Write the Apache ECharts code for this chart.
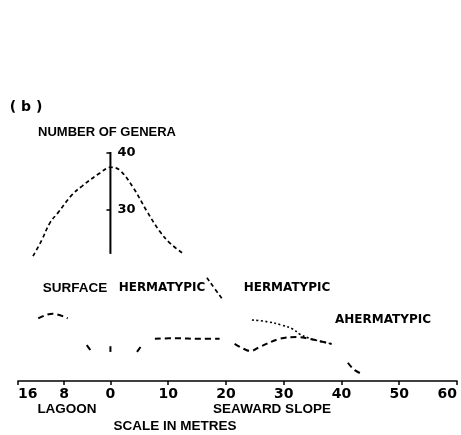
<!DOCTYPE html>
<html><head><meta charset="utf-8">
<script src="https://cdn.jsdelivr.net/npm/echarts@6/dist/echarts.min.js"></script>
<style>html,body{margin:0;padding:0;background:#fff}#c{width:461px;height:435px}</style>
</head><body><div id="c"></div>
<script>
// x = distance in metres (negative = lagoon side), y = number of genera
const xTickValues = [-16, -8, 0, 10, 20, 30, 40, 50, 60];
const yTickValues = [30, 40];
const genusAxisSpan = [[0, 22.3], [0, 40.2]];

const surfaceHermatypic = [
  [[-13.4, 21.9], [-11.9, 24.7], [-10.5, 27.7], [-9.1, 29.5], [-6.7, 32.6], [-4.9, 34.2], [-1.8, 36.5], [0.1, 37.5],
   [1.6, 37.0], [3.9, 34.0], [6.3, 29.8], [8.5, 26.3], [10.3, 24.2], [12.4, 22.5]],
  [[16.7, 18.1], [19.5, 14.2]]
];
const hermatypic = [
  [[-12.5, 11.0], [-10.0, 11.8], [-7.4, 11.0]],
  [[-4.1, 6.3], [-3.4, 5.3]],
  [[0, 6.1], [0, 5.1]],
  [[4.6, 5.1], [5.3, 6.1]],
  [[7.7, 7.4], [11.3, 7.5], [15.6, 7.4], [18.9, 7.4]],
  [[21.5, 6.5], [23.6, 5.4], [24.3, 5.3], [25.9, 6.0], [29.3, 7.4], [32.3, 7.7], [34.0, 7.5], [36.2, 7.0], [38.3, 6.5]],
  [[41.1, 3.2], [42.3, 1.9], [43.7, 1.2]]
];
const ahermatypic = [
  [[24.5, 10.7], [27.2, 10.4], [29.7, 9.8], [31.6, 9.1], [32.8, 8.2], [34.4, 7.5], [36.2, 7.0], [38.3, 6.5]]
];

const GRID_LEFT = 18, GRID_RIGHT = 4, X_MIN = -16, X_MAX = 60;
const chartWidth = 461;
// shift the genera axis so it stands on x = 0
const yAxisShift = -(0 - X_MIN) * (chartWidth - GRID_LEFT - GRID_RIGHT) / (X_MAX - X_MIN);

const chart = echarts.init(document.getElementById('c'), null, {renderer: 'canvas'});
const sans = '"Liberation Sans", Arial, sans-serif';
const heavy = '"DejaVu Sans", sans-serif';

function segSeries(segs, lineStyle) {
  return segs.map(s => ({
    type: 'line', data: s, smooth: 0.4, symbol: 'none', silent: true,
    lineStyle: Object.assign({color: '#000'}, lineStyle)
  }));
}

const series = []
  .concat(segSeries(surfaceHermatypic, {width: 1.7, type: [4, 3]}))
  .concat(segSeries(hermatypic, {width: 2, type: [6, 4]}))
  .concat(segSeries(ahermatypic, {width: 1.6, type: [2, 2.5]}))
  .concat([{type: 'line', data: genusAxisSpan, symbol: 'none', silent: true, lineStyle: {color: '#000', width: 2}}]);

function txt(text, x, y, font, size, align) {
  return {type: 'text', x: x, y: y, silent: true,
    style: {text: text, fill: '#000', font: 'bold ' + size + 'px ' + font,
      textAlign: align || 'center', textVerticalAlign: 'middle'}};
}

chart.setOption({
  animation: false,
  backgroundColor: '#fff',
  grid: {left: GRID_LEFT, right: GRID_RIGHT, top: 153, bottom: 54, containLabel: false},
  xAxis: {
    type: 'value', min: X_MIN, max: X_MAX,
    axisLine: {onZero: false, lineStyle: {color: '#000', width: 1.6}},
    axisTick: {customValues: xTickValues, length: 4, lineStyle: {color: '#000', width: 1.5}},
    axisLabel: {customValues: xTickValues, formatter: v => String(Math.abs(v)), color: '#000',
      fontFamily: heavy, fontWeight: 'bold', fontSize: 14, margin: 6,
      alignMinLabel: 'left', alignMaxLabel: 'right'},
    splitLine: {show: false}
  },
  yAxis: {
    type: 'value', min: 0, max: 40, position: 'left', offset: yAxisShift,
    axisLine: {show: false, onZero: false},
    axisTick: {customValues: yTickValues, length: 4, lineStyle: {color: '#000', width: 1.5}},
    axisLabel: {customValues: yTickValues, inside: true, margin: 7, color: '#000',
      fontFamily: heavy, fontWeight: 'bold', fontSize: 13},
    splitLine: {show: false}
  },
  series: series,
  graphic: [
    txt('( b )', 26, 107, heavy, 14),
    txt('NUMBER OF GENERA', 107, 132, sans, 13),
    txt('SURFACE', 75, 288, sans, 13.5),
    txt('HERMATYPIC', 162, 288, heavy, 12),
    txt('HERMATYPIC', 287, 288, heavy, 12),
    txt('AHERMATYPIC', 383, 320, heavy, 12),
    txt('LAGOON', 67, 409, sans, 13.5),
    txt('SEAWARD SLOPE', 272, 409, sans, 13.5),
    txt('SCALE IN METRES', 175, 426, sans, 13.5)
  ]
});
</script></body></html>
